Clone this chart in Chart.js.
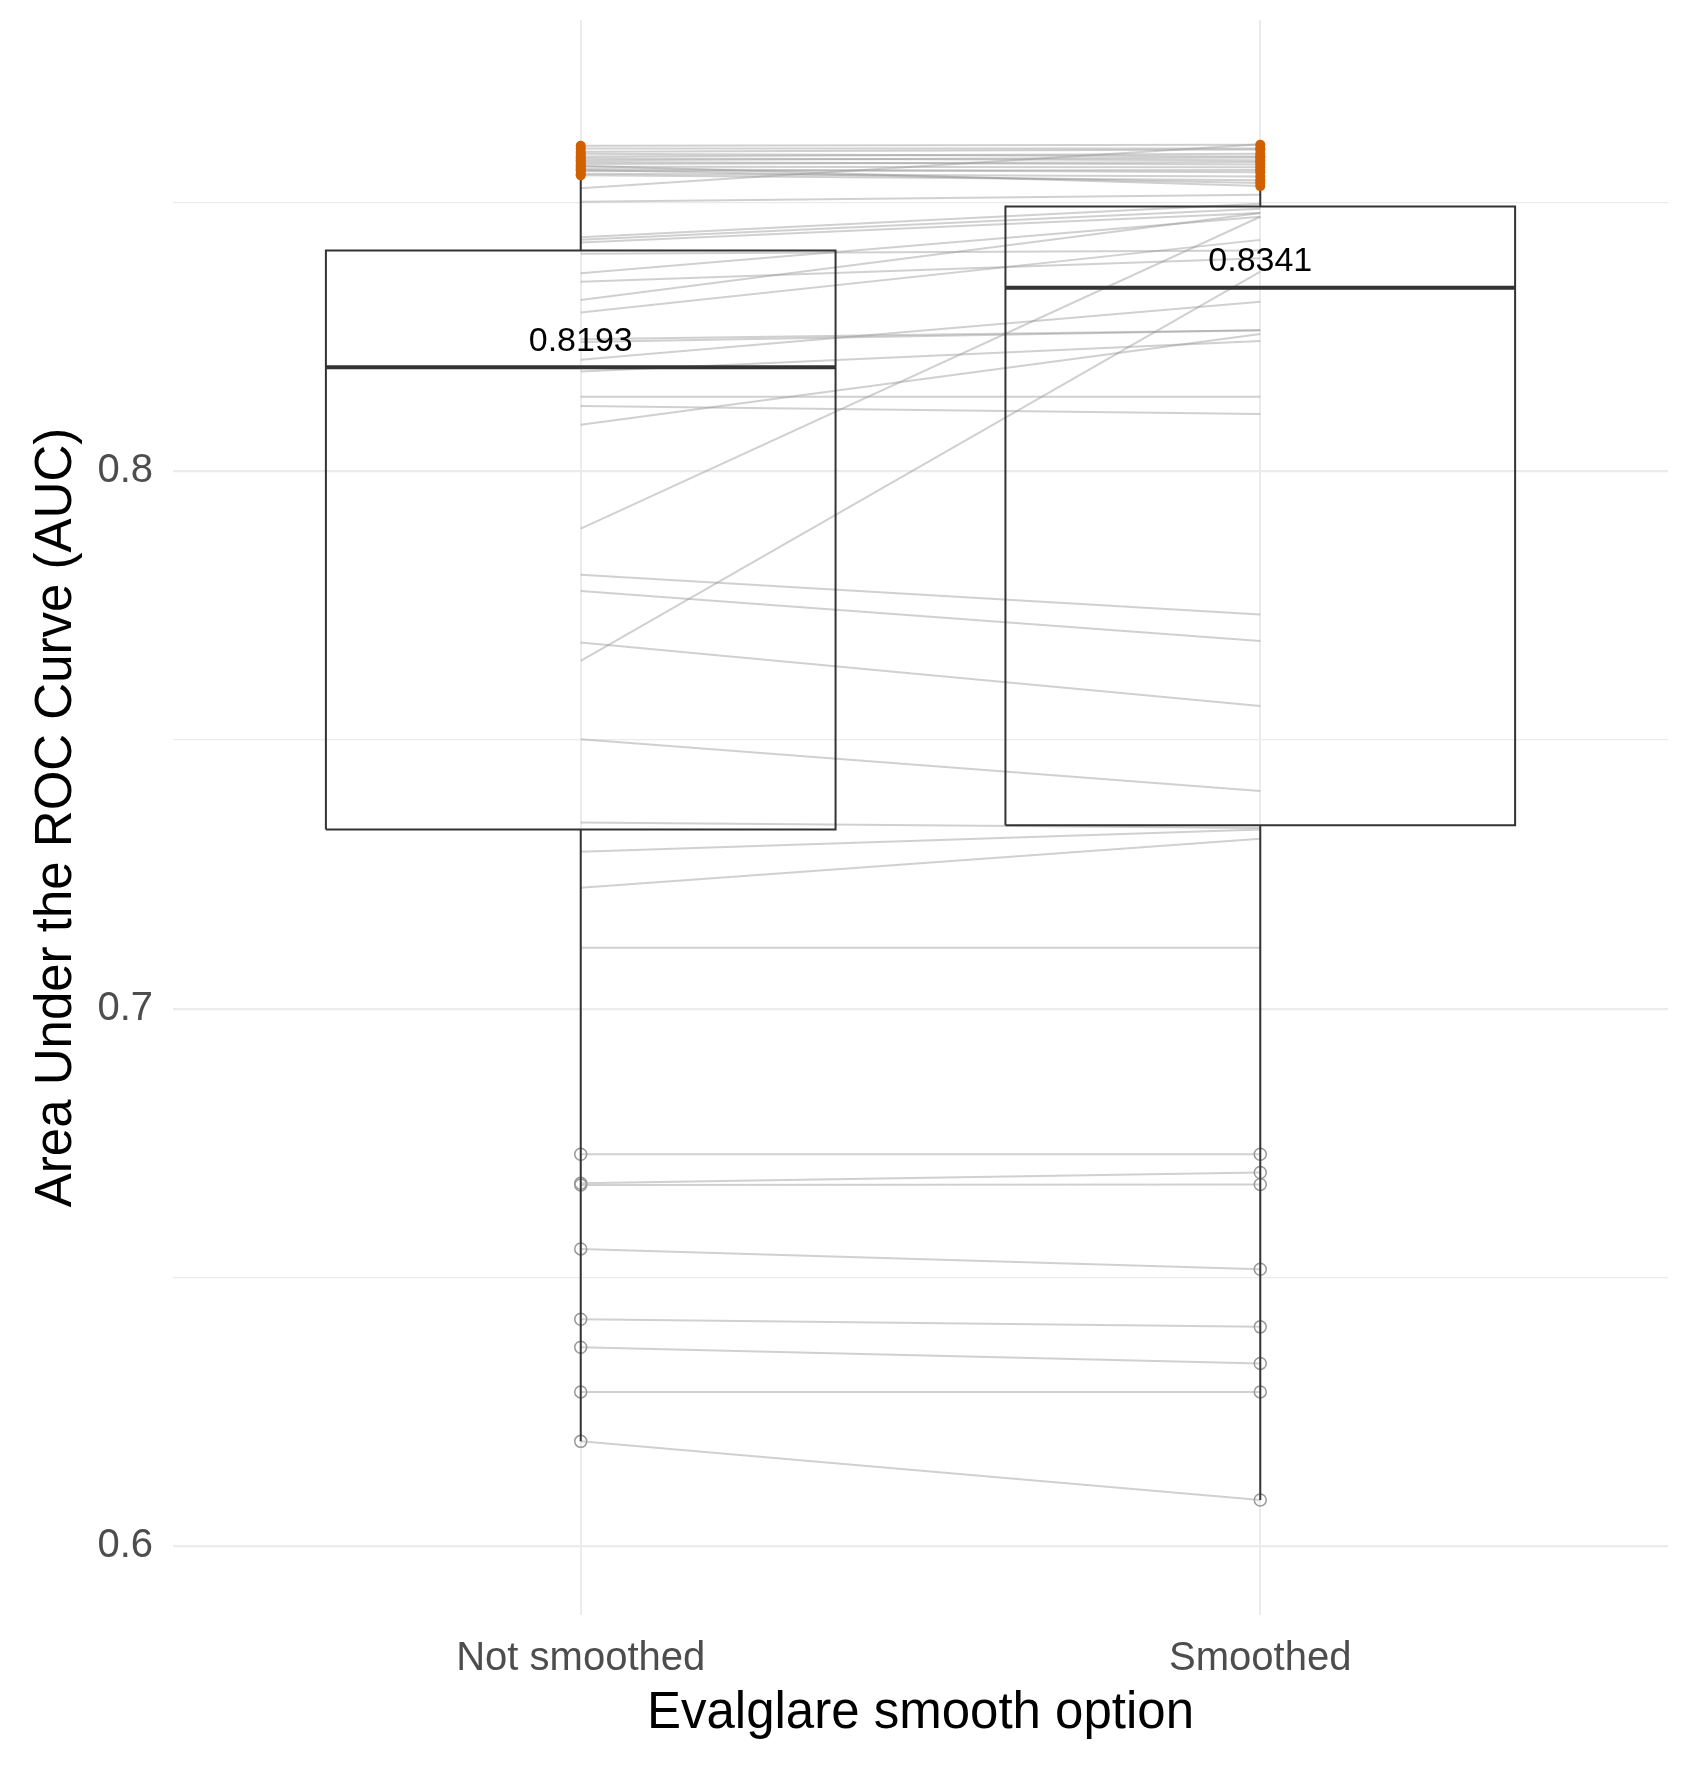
<!DOCTYPE html>
<html>
<head>
<meta charset="utf-8">
<script src="https://cdn.jsdelivr.net/npm/chart.js@4.4.0/dist/chart.umd.min.js"></script>
<style>
  html, body { margin: 0; padding: 0; background: #fff; }
  canvas { display: block; }
</style>
</head>
<body>
<canvas id="aucChart" width="1691" height="1777"></canvas>
<script>
// categories on the x axis (positions 0 and 1)
var categories = ["Not smoothed", "Smoothed"];

// paired AUC values, one pair per case
var notSmoothed = [
  0.8605, 0.8600, 0.8594, 0.8590, 0.8585, 0.8582, 0.8578, 0.8575, 0.8571, 0.8566, 0.8562, 0.8558, 0.8553, 0.8550, 0.8560, 0.8568,
  0.8526, 0.8501, 0.8435, 0.8430, 0.8425, 0.8404, 0.8368, 0.8352, 0.8318, 0.8295, 0.8245, 0.8240, 0.8207, 0.8185, 0.8138, 0.8121, 0.8086,
  0.7893, 0.7807, 0.7777, 0.7681, 0.7647, 0.7501, 0.7346, 0.7292, 0.7225, 0.7113,
  0.6729, 0.6675, 0.6672, 0.6553, 0.6422, 0.6370, 0.6287, 0.6195
];
var smoothed = [
  0.8607, 0.8600, 0.8598, 0.8585, 0.8590, 0.8578, 0.8583, 0.8570, 0.8575, 0.8565, 0.8556, 0.8560, 0.8548, 0.8541, 0.8536, 0.8530,
  0.8608, 0.8514, 0.8497, 0.8488, 0.8480, 0.8410, 0.8473, 0.8396, 0.8480, 0.8430, 0.8262, 0.8262, 0.8315, 0.8242, 0.8138, 0.8106, 0.8255,
  0.8473, 0.7733, 0.7684, 0.7563, 0.8371, 0.7405, 0.7336, 0.7333, 0.7316, 0.7113,
  0.6729, 0.6695, 0.6673, 0.6515, 0.6408, 0.6340, 0.6287, 0.6086
];
// marker per pair: "o" orange dot, "c" hollow circle, "" none
var markers = [
  "o","o","o","o","o","o","o","o","o","o","o","o","o","o","o","o",
  "","","","","","","","","","","","","","","","","",
  "","","","","","","","","","",
  "c","c","c","c","c","c","c","c"
];

// box plot stats
var boxQ1 = [0.7333, 0.7341];
var boxMedian = [0.8193, 0.8341];
var boxQ3 = [0.8410, 0.8492];
var whiskerLow = [0.6195, 0.6086];
var whiskerHigh = [0.8605, 0.8607];

var yTicks = [0.6, 0.65, 0.7, 0.75, 0.8, 0.85];
var yMajor = [0.6, 0.7, 0.8];

var FONT = "'Liberation Sans', Arial, sans-serif";
var boxHalf = 0.375;
var boxColor = "#333333";

var datasets = [];

// grey lines joining the pairs
for (var i = 0; i < notSmoothed.length; i++) {
  datasets.push({
    data: [{x: 0, y: notSmoothed[i]}, {x: 1, y: smoothed[i]}],
    showLine: true,
    borderColor: "rgba(150,150,150,0.45)",
    borderWidth: 2,
    pointRadius: 0,
    order: 4
  });
}

// hollow circles and orange dots
var circlePts = [], orangePts = [];
for (var j = 0; j < markers.length; j++) {
  var target = markers[j] === "c" ? circlePts : (markers[j] === "o" ? orangePts : null);
  if (!target) continue;
  target.push({x: 0, y: notSmoothed[j]});
  target.push({x: 1, y: smoothed[j]});
}
datasets.push({
  data: circlePts,
  showLine: false,
  pointRadius: 6,
  pointBackgroundColor: "rgba(0,0,0,0)",
  pointBorderColor: "#999999",
  pointBorderWidth: 1.5,
  order: 3
});

// boxes, medians and whiskers
for (var c = 0; c < categories.length; c++) {
  datasets.push({
    data: [
      {x: c - boxHalf, y: boxQ1[c]}, {x: c + boxHalf, y: boxQ1[c]},
      {x: c + boxHalf, y: boxQ3[c]}, {x: c - boxHalf, y: boxQ3[c]},
      {x: c - boxHalf, y: boxQ1[c]}
    ],
    showLine: true, borderColor: boxColor, borderWidth: 2, pointRadius: 0, order: 1
  });
  datasets.push({
    data: [{x: c - boxHalf, y: boxMedian[c]}, {x: c + boxHalf, y: boxMedian[c]}],
    showLine: true, borderColor: boxColor, borderWidth: 4, pointRadius: 0, order: 1
  });
  datasets.push({
    data: [{x: c, y: boxQ3[c]}, {x: c, y: whiskerHigh[c]}],
    showLine: true, borderColor: boxColor, borderWidth: 2, pointRadius: 0, order: 1
  });
  datasets.push({
    data: [{x: c, y: boxQ1[c]}, {x: c, y: whiskerLow[c]}],
    showLine: true, borderColor: boxColor, borderWidth: 2, pointRadius: 0, order: 1
  });
}

datasets.push({
  data: orangePts,
  showLine: false,
  pointRadius: 5,
  pointBackgroundColor: "#d16100",
  pointBorderColor: "#d16100",
  pointBorderWidth: 0,
  order: 0
});

// median value labels above the median lines
var medianLabels = {
  id: "medianLabels",
  afterDatasetsDraw: function(chart) {
    var ctx = chart.ctx;
    var xs = chart.scales.x, ys = chart.scales.y;
    ctx.save();
    ctx.font = "34px " + FONT;
    ctx.fillStyle = "#000000";
    ctx.textAlign = "center";
    ctx.textBaseline = "middle";
    for (var k = 0; k < boxMedian.length; k++) {
      ctx.fillText(boxMedian[k].toFixed(4), xs.getPixelForValue(k), ys.getPixelForValue(boxMedian[k]) - 26);
    }
    ctx.restore();
  }
};

var ctx = document.getElementById("aucChart").getContext("2d");
var aucChart = new Chart(ctx, {
  type: "scatter",
  data: { datasets: datasets },
  plugins: [medianLabels],
  options: {
    responsive: false,
    animation: false,
    devicePixelRatio: 1,
    events: [],
    layout: { padding: { top: 20, right: 23, left: 0, bottom: 0 } },
    plugins: { legend: { display: false }, tooltip: { enabled: false } },
    scales: {
      x: {
        type: "linear",
        min: -0.6,
        max: 1.6,
        afterBuildTicks: function(scale) {
          scale.ticks = categories.map(function(_, k) { return {value: k}; });
        },
        afterFit: function(scale) {
          scale.height = 162;
          scale.paddingLeft = 0;
          scale.paddingRight = 0;
        },
        grid: { color: "#ebebeb", lineWidth: 2, drawTicks: false },
        border: { display: false },
        ticks: {
          padding: 20,
          color: "#4d4d4d",
          font: { family: FONT, size: 40 },
          maxRotation: 0,
          autoSkip: false,
          callback: function(v) { return categories[v] !== undefined ? categories[v] : ""; }
        },
        title: {
          display: true,
          text: "Evalglare smooth option",
          color: "#000000",
          font: { family: FONT, size: 51, lineHeight: 1.2 },
          padding: { top: 0, bottom: 32 }
        }
      },
      y: {
        type: "linear",
        min: 0.5872,
        max: 0.8839,
        afterBuildTicks: function(scale) {
          scale.ticks = yTicks.map(function(v) { return {value: v}; });
        },
        afterFit: function(scale) {
          scale.width = 173;
          scale.paddingTop = 0;
          scale.paddingBottom = 0;
        },
        grid: {
          color: "#ebebeb",
          lineWidth: function(ctx) {
            return yMajor.indexOf(ctx.tick.value) >= 0 ? 2.2 : 1.3;
          },
          drawTicks: false
        },
        border: { display: false },
        ticks: {
          padding: 20,
          color: "#4d4d4d",
          font: { family: FONT, size: 40 },
          autoSkip: false,
          callback: function(v) { return yMajor.indexOf(v) >= 0 ? v.toFixed(1) : ""; }
        },
        title: {
          display: true,
          text: "Area Under the ROC Curve (AUC)",
          color: "#000000",
          font: { family: FONT, size: 51, lineHeight: 1.2 },
          padding: { top: 26, bottom: 0 }
        }
      }
    }
  }
});
</script>
</body>
</html>
